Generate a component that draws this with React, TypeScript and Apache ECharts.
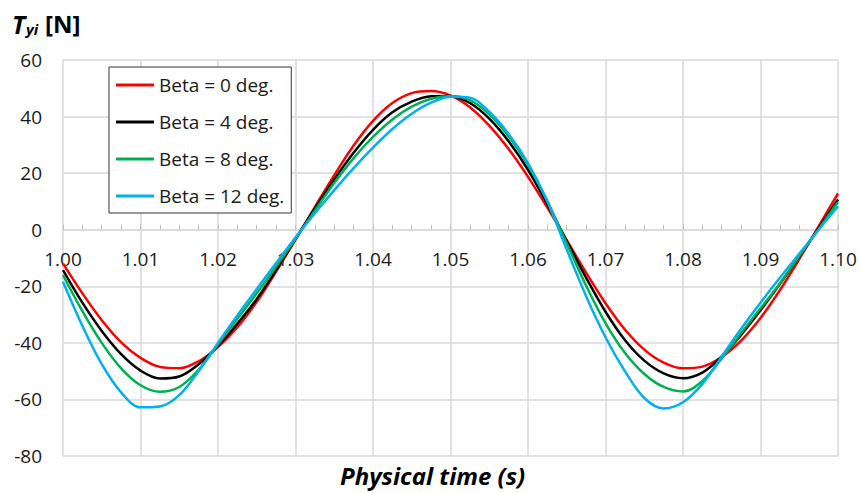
import React, { useEffect, useRef } from "react";
import * as echarts from "echarts";

const times = [
  1.0, 1.0025, 1.005, 1.0075, 1.01, 1.0125, 1.015, 1.0175, 1.02, 1.0225,
  1.025, 1.0275, 1.03, 1.0325, 1.035, 1.0375, 1.04, 1.0425, 1.045, 1.0475,
  1.05, 1.0525, 1.055, 1.0575, 1.06, 1.0625, 1.065, 1.0675, 1.07, 1.0725,
  1.075, 1.0775, 1.08, 1.0825, 1.085, 1.0875, 1.09, 1.0925, 1.095, 1.0975, 1.1,
];

const beta0 = [
  -12.0, -22.5, -32.0, -39.8, -45.3, -48.5, -49.0, -46.5, -41.5, -34.5,
  -25.5, -14.8, -3.5, 8.0, 19.3, 29.8, 38.5, 44.8, 48.3, 49.0,
  47.4, 43.3, 36.8, 28.5, 18.7, 7.8, -3.7, -15.2, -26.0, -35.3,
  -42.4, -47.0, -49.0, -48.4, -45.0, -39.2, -31.2, -21.4, -10.4, 1.2, 12.8,
];

const beta4 = [
  -14.3, -25.8, -35.8, -44.0, -49.8, -52.6, -51.9, -47.6, -41.0, -33.2,
  -24.5, -14.3, -3.3, 7.5, 17.8, 27.2, 35.3, 41.5, 45.3, 47.2,
  47.3, 44.8, 39.3, 31.3, 21.2, 9.0, -4.0, -17.0, -29.0, -39.0,
  -46.3, -50.8, -52.5, -50.5, -44.8, -37.2, -28.5, -19.2, -9.5, 0.5, 10.7,
];

const beta8 = [
  -16.0, -28.8, -40.0, -49.0, -55.0, -57.3, -55.6, -49.5, -40.5, -31.5,
  -22.5, -13.0, -3.2, 6.8, 16.5, 25.3, 32.8, 39.0, 43.5, 46.3,
  47.3, 45.8, 40.8, 33.0, 22.8, 10.0, -4.8, -19.8, -33.0, -43.5,
  -51.0, -55.6, -57.2, -53.5, -45.5, -36.5, -27.8, -19.0, -9.3, 0.2, 9.8,
];

const beta12 = [
  -18.4, -34.0, -47.5, -57.5, -62.8, -62.5, -58.5, -50.0, -40.0, -30.3,
  -21.0, -11.8, -2.8, 5.8, 14.0, 21.8, 29.0, 35.6, 41.0, 44.9,
  47.0, 46.7, 41.7, 33.8, 23.5, 10.0, -7.0, -23.5, -38.0, -50.0,
  -59.5, -63.2, -61.0, -54.5, -44.8, -35.0, -25.8, -17.0, -8.5, 0.0, 8.3,
];

const seriesNames = ["Beta = 0 deg.", "Beta = 4 deg.", "Beta = 8 deg.", "Beta = 12 deg."];
const seriesValues = [beta0, beta4, beta8, beta12];
const seriesColors = ["#ff0000", "#000000", "#00b050", "#00b0f0"];

const FONT = "'Open Sans', 'Noto Sans', sans-serif";

const GRID_TOP = 60;
const GRID_BOTTOM = 37;
const Y_MIN = -80;
const Y_MAX = 60;

export default function App() {
  const ref = useRef<HTMLDivElement>(null);

  useEffect(() => {
    if (!ref.current) return;
    const chart = echarts.init(ref.current, undefined, { renderer: "svg" });
    const gridColor = "#d9d9d9";
    const plotH = 493 - GRID_TOP - GRID_BOTTOM;
    const zeroOffset = -(plotH * (0 - Y_MIN)) / (Y_MAX - Y_MIN);
    chart.setOption({
      animation: false,
      backgroundColor: "#ffffff",
      textStyle: { fontFamily: FONT },
      grid: { left: 63, right: 22, top: GRID_TOP, bottom: GRID_BOTTOM, containLabel: false },
      legend: {
        orient: "vertical",
        left: 109,
        top: 67,
        data: seriesNames,
        icon: "rect",
        backgroundColor: "#ffffff",
        borderColor: "#333333",
        borderWidth: 1,
        padding: [8, 7, 7, 7],
        itemWidth: 38,
        itemHeight: 3,
        itemGap: 17,
        textStyle: { fontFamily: FONT, fontSize: 19, color: "#1a1a1a", lineHeight: 20, height: 20 },
      },
      xAxis: {
        type: "value",
        min: 1.0,
        max: 1.1,
        interval: 0.01,
        position: "bottom",
        offset: zeroOffset,
        axisLine: { show: true, onZero: false, lineStyle: { color: gridColor, width: 1.5 } },
        axisTick: { show: true, inside: true, length: 5, lineStyle: { color: "#bfbfbf", width: 1 } },
        minorTick: { show: true, splitNumber: 4, length: 5, lineStyle: { color: "#bfbfbf", width: 1 } },
        axisLabel: {
          margin: 20,
          fontFamily: FONT,
          fontSize: 19,
          color: "#1a1a1a",
          formatter: (v: number) => v.toFixed(2),
        },
        splitLine: { show: true, lineStyle: { color: gridColor, width: 1.5 } },
      },
      yAxis: {
        type: "value",
        min: Y_MIN,
        max: Y_MAX,
        interval: 20,
        axisLine: { show: false },
        axisTick: { show: false },
        axisLabel: { margin: 21, fontFamily: FONT, fontSize: 19, color: "#1a1a1a" },
        splitLine: { show: true, lineStyle: { color: gridColor, width: 1.5 } },
      },
      graphic: [
        {
          type: "text",
          left: 12,
          top: 11,
          style: { text: "T", font: `italic bold 25px ${FONT}`, fill: "#000" },
        },
        {
          type: "text",
          left: 26,
          top: 21,
          style: { text: "yi", font: `italic bold 15px ${FONT}`, fill: "#000" },
        },
        {
          type: "text",
          left: 45,
          top: 11,
          style: { text: "[N]", font: `bold 24px ${FONT}`, fill: "#000" },
        },
        {
          type: "text",
          left: 340,
          top: 463,
          style: { text: "Physical time (s)", font: `italic bold 24px ${FONT}`, fill: "#000" },
        },
      ],
      series: seriesNames.map((name, k) => ({
        name,
        type: "line",
        smooth: 0.35,
        symbol: "none",
        color: seriesColors[k],
        lineStyle: { color: seriesColors[k], width: 2.5 },
        data: times.map((t, i) => [t, seriesValues[k][i]]),
        z: 3 + k,
      })),
    });
    return () => chart.dispose();
  }, []);

  return <div ref={ref} style={{ width: 860, height: 493, position: "absolute", left: 0, top: 0 }} />;
}
